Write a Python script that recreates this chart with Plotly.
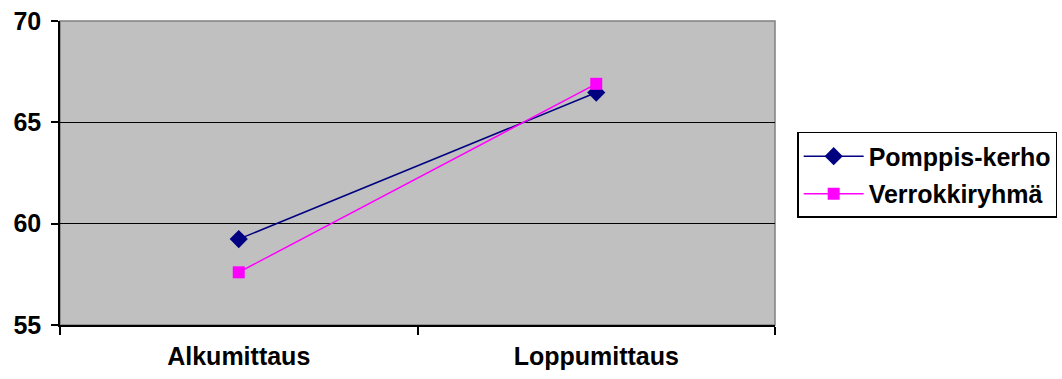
import plotly.graph_objects as go

categories = ["Alkumittaus", "Loppumittaus"]
pomppis = [59.24, 66.47]
verrokki = [57.6, 66.9]
series_names = ["Pomppis-kerho", "Verrokkiryhmä"]

FONT = dict(family="Liberation Sans, Arial, sans-serif", size=25, color="black", weight="bold")

fig = go.Figure()
fig.add_trace(go.Scatter(
    x=categories, y=pomppis, name=series_names[0], mode="lines+markers",
    legendgroup="a",
    line=dict(color="#000080", width=1.5),
    marker=dict(symbol="diamond", size=14, color="#000080"),
))
fig.add_trace(go.Scatter(
    x=categories, y=verrokki, name=series_names[1], mode="lines+markers",
    legendgroup="b",
    line=dict(color="#FF00FF", width=1.5),
    marker=dict(symbol="square", size=12, color="#FF00FF"),
))

fig.update_layout(
    width=1062, height=379,
    margin=dict(l=60, r=287, t=21, b=54, autoexpand=False),
    paper_bgcolor="white", plot_bgcolor="#C0C0C0",
    font=FONT,
    showlegend=True,
    legend=dict(
        x=1.031, y=0.635, xanchor="left", yanchor="top",
        bordercolor="black", borderwidth=1.5, bgcolor="white",
        font=FONT, traceorder="grouped", tracegroupgap=2, itemwidth=60,
    ),
    xaxis=dict(
        type="category", range=[-0.5, 1.5], automargin=False,
        tickson="boundaries", ticks="outside", ticklen=8, tickcolor="black", tickwidth=1.5,
        showline=True, linecolor="black", linewidth=1.5,
        showgrid=False, tickfont=FONT, ticklabelstandoff=8,
    ),
    yaxis=dict(
        range=[55, 70], tickvals=[55, 60, 65, 70], automargin=False,
        ticks="outside", ticklen=7, tickcolor="black", tickwidth=1.5,
        showline=True, linecolor="black", linewidth=1.5,
        showgrid=True, gridcolor="black", gridwidth=1.2,
        zeroline=False, tickfont=FONT, ticklabelstandoff=5,
    ),
)
fig.add_shape(type="rect", xref="paper", yref="paper", x0=0, x1=1, y0=0, y1=1,
              line=dict(color="#808080", width=1.5), layer="below")

fig.write_html("out.html")
